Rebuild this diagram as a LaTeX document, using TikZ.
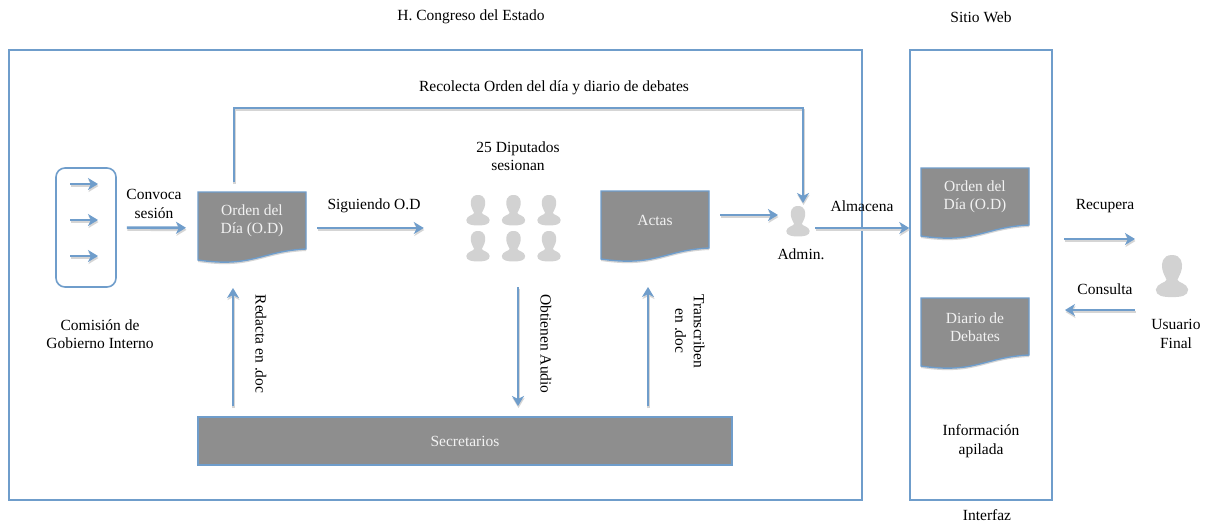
\documentclass[tikz,border=0pt]{standalone}
\usepackage{fontspec}
\setmainfont{Liberation Serif}
\usetikzlibrary{arrows.meta,calc}
\definecolor{lineblue}{HTML}{6F9DCB}
\definecolor{docgray}{HTML}{8E8E8E}
\definecolor{persongray}{HTML}{D2D2D2}
\definecolor{softshadow}{HTML}{D5D5D5}
\tikzset{
  lbl/.style={font=\fontsize{15.5}{18.5}\selectfont,text=black,align=center,inner sep=0pt},
  wlbl/.style={font=\fontsize{15.5}{18.5}\selectfont,text=white!90!gray,align=center,inner sep=0pt},
  frame/.style={draw=lineblue,line width=1.4pt,fill=white},
  arr/.style={draw=lineblue,line width=2.6pt,-{Stealth[length=10pt,width=12pt,inset=3pt]}},
  arrshadow/.style={draw=softshadow,line width=2.6pt,-{Stealth[length=10pt,width=12pt,inset=3pt]},transform canvas={shift={(0.5pt,-2pt)}}},
  docbox/.style={minimum width=108pt,minimum height=72pt,inner sep=0pt,outer sep=0pt},
  barbox/.style={draw=lineblue,line width=1.4pt,fill=docgray},
}
\newcommand{\docshape}[5]{% name, cx, cy, text, text offset
  \node[docbox] (#1) at (#2,#3) {};
  \path[fill=softshadow,transform canvas={yshift=-2pt}]
    (#1.north west) -- (#1.north east) -- ($(#1.south east)+(0,-15)$)
    .. controls ($(#1.south east)+(-45,-13)$) and ($(#1.south west)+(55,4)$) .. ($(#1.south west)+(0,-4)$) -- cycle;
  \path[draw=lineblue,line width=1.4pt,fill=docgray]
    (#1.north west) -- (#1.north east) -- ($(#1.south east)+(0,-15)$)
    .. controls ($(#1.south east)+(-45,-13)$) and ($(#1.south west)+(55,4)$) .. ($(#1.south west)+(0,-4)$) -- cycle;
  \node[wlbl] (#1-t) at ($(#1.center)+(0,#5)$) {#4};
}
\newcommand{\personshape}[3]{% cx, top, scale
  \begin{scope}[shift={(#1,#2)},scale=#3]
    \fill[persongray] (0,0) .. controls (-9,0) and (-10,8) .. (-9,13)
      .. controls (-8,18) and (-6,20) .. (-5,23)
      .. controls (-6,26) and (-14,26) .. (-15,32)
      .. controls (-15,38) and (-8,39) .. (0,39)
      .. controls (8,39) and (15,38) .. (15,32)
      .. controls (14,26) and (6,26) .. (5,23)
      .. controls (6,20) and (8,18) .. (9,13)
      .. controls (10,8) and (9,0) .. (0,0) -- cycle;
  \end{scope}
}
\begin{document}
\begin{tikzpicture}[x=1pt,y=-1pt]
\useasboundingbox (0,0) rectangle (1211,523);
% containers
\node[frame,minimum width=853pt,minimum height=450pt,inner sep=0pt] (congreso) at (435.5,275) {};
\node[frame,minimum width=142pt,minimum height=450pt,inner sep=0pt] (interfaz) at (981,275) {};
% titles
\node[lbl] (t1) at (471,17) {H. Congreso del Estado};
\node[lbl] (t2) at (981,17) {Sitio Web};
\node[lbl] (t3) at (987,515) {Interfaz};
% comision box
\node[draw=lineblue,line width=1.6pt,rounded corners=9pt,minimum width=60pt,minimum height=119pt,inner sep=0pt] (comision) at (86,227.5) {};
\foreach \n/\yy in {a/184,b/220,c/256}{
  \coordinate (ca\n) at (70,\yy);
  \coordinate (cb\n) at (98,\yy);
  \draw[arrshadow] (ca\n) -- (cb\n);
  \draw[arr] (ca\n) -- (cb\n);
}
\node[lbl] (comlbl) at (100,334) {Comisión de\\Gobierno Interno};
% documents
\docshape{od}{252}{228}{Orden del\\Día (O.D)}{-7}
\docshape{actas}{655}{227}{Actas}{-7}
\docshape{od2}{975}{204}{Orden del\\Día (O.D)}{-7}
\docshape{dd}{975}{334}{Diario de\\Debates}{-7}
% secretarios
\node[barbox,minimum width=534pt,minimum height=48pt,inner sep=0pt] (sec) at (465,441) {};
\node[wlbl] (sect) at (sec) {Secretarios};
% people group
\node[minimum width=100pt,minimum height=67pt,inner sep=0pt] (dip) at (512,228) {};
\foreach \xx in {478,513.5,549}{
  \personshape{\xx}{195}{0.78}
  \personshape{\xx}{231}{0.78}
}
\node[lbl] (diplbl) at (518,156) {25 Diputados\\sesionan};
% admin
\node[minimum width=34pt,minimum height=32pt,inner sep=0pt] (admin) at (798,222) {};
\personshape{798}{206}{0.78}
\node[lbl] (adminlbl) at (801,254) {Admin.};
% usuario
\node[minimum width=44pt,minimum height=44pt,inner sep=0pt] (user) at (1172,276) {};
\personshape{1172}{255}{1.08}
\node[lbl] (userlbl) at (1176,334) {Usuario\\Final};
% connector anchors
\coordinate (odtop) at (234,182);
\coordinate (r1) at (234,108);
\coordinate (r2) at (803,108);
\coordinate (admintop) at (803,203);
\coordinate (acto) at (720,215);
\coordinate (actend) at (778,215);
\coordinate (almstart) at (815,228);
\coordinate (almend) at (interfaz.west |- almstart);
\coordinate (rs) at (1064,239);
\coordinate (re) at (1135,239);
\coordinate (cs) at (1135,310);
\coordinate (ce) at (1065,310);
\coordinate (s1) at (233,406);
\coordinate (o1) at (233,288);
\coordinate (d1) at (518,287);
\coordinate (s2) at (518,406);
\coordinate (s3) at (648,406);
\coordinate (a3) at (648,287);
% connectors
\foreach \opt in {arrshadow,arr}{
  \draw[\opt,shorten <=10pt,shorten >=12pt] (comision) -- (od);
  \draw[\opt,shorten <=11pt,shorten >=38pt] (od) -- (dip);
  \draw[\opt] (acto) -- (actend);
  \draw[\opt] (odtop) -- (r1) -- (r2) -- (admintop);
  \draw[\opt] (almstart) -- (almend);
  \draw[\opt] (rs) -- (re);
  \draw[\opt] (cs) -- (ce);
  \draw[\opt] (s1) -- (o1);
  \draw[\opt] (d1) -- (s2);
  \draw[\opt] (s3) -- (a3);
}
% labels
\node[lbl] (l1) at (554,88) {Recolecta Orden del día y diario de debates};
\node[lbl] (l2) at (154,204) {Convoca\\sesión};
\node[lbl] (l3) at (374,206) {Siguiendo O.D};
\node[lbl] (l4) at (862,206) {Almacena};
\node[lbl] (l5) at (1105,206) {Recupera};
\node[lbl] (l6) at (1105,289) {Consulta};
\node[lbl,rotate=-90] (l7) at (261,344) {Redacta en .doc};
\node[lbl,rotate=-90] (l8) at (546,344) {Obtienen Audio};
\node[lbl,rotate=-90] (l9) at (690,331) {Transcriben\\en .doc};
\node[lbl] (l10) at (981,441) {Información\\apilada};
\end{tikzpicture}
\end{document}
